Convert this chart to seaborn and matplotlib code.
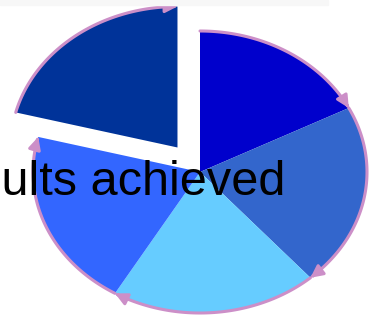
import numpy as np
import seaborn as sns
import matplotlib
matplotlib.use("Agg")
import matplotlib.pyplot as plt
from matplotlib.patches import FancyArrowPatch, Rectangle
from matplotlib.path import Path

# ==============================
# Data
# ==============================
labels = ["A", "B", "C", "D", "E"]
values = [17.5, 21, 20, 20.5, 21]
colors = ["#0000CC", "#3366CC", "#66CCFF", "#3366FF", "#003399"]
explode = [0, 0, 0, 0, 0.22]
title = "Results achieved"

sns.set_style("white")
plt.rcParams["font.family"] = ["Liberation Sans", "DejaVu Sans"]

W, H = 374, 324
fig = plt.figure(figsize=(W / 100, H / 100), dpi=100)
ax = fig.add_axes([0, 0, 1, 1])

# faint band at the top
fig.patches.append(Rectangle((0, 1 - 5 / H), 328 / W, 5 / H,
                             transform=fig.transFigure, color="#F7F7F7", zorder=0))

wedges, _ = ax.pie(values, colors=colors, explode=explode, startangle=90,
                   counterclock=False, radius=1,
                   wedgeprops=dict(linewidth=0))

# pink outline arcs with arrow heads (clockwise)
edge = "#CC8FC8"
for w in wedges:
    cx, cy = w.center
    t = np.linspace(w.theta2, w.theta1, 80)
    pts = np.column_stack([cx + np.cos(np.radians(t)), cy + np.sin(np.radians(t))])
    codes = [Path.MOVETO] + [Path.LINETO] * (len(pts) - 1)
    arr = FancyArrowPatch(path=Path(pts, codes), arrowstyle="-|>",
                          mutation_scale=18, color=edge, lw=2.2, zorder=5)
    ax.add_patch(arr)

# elliptical pie: center at (200,172) px, rx=167, ry=141
rx, ry, cxp, cyp = 167, 141, 200, 172
ax.set_aspect("auto")
ax.set_xlim(-cxp / rx, (W - cxp) / rx)
ax.set_ylim(-(H - cyp) / ry, cyp / ry)
ax.axis("off")

ax.text(285 / W, 1 - 195 / H, title, transform=ax.transAxes, ha="right",
        va="baseline", fontsize=35, color="black", zorder=10)

fig.savefig("out.png", dpi=100)
